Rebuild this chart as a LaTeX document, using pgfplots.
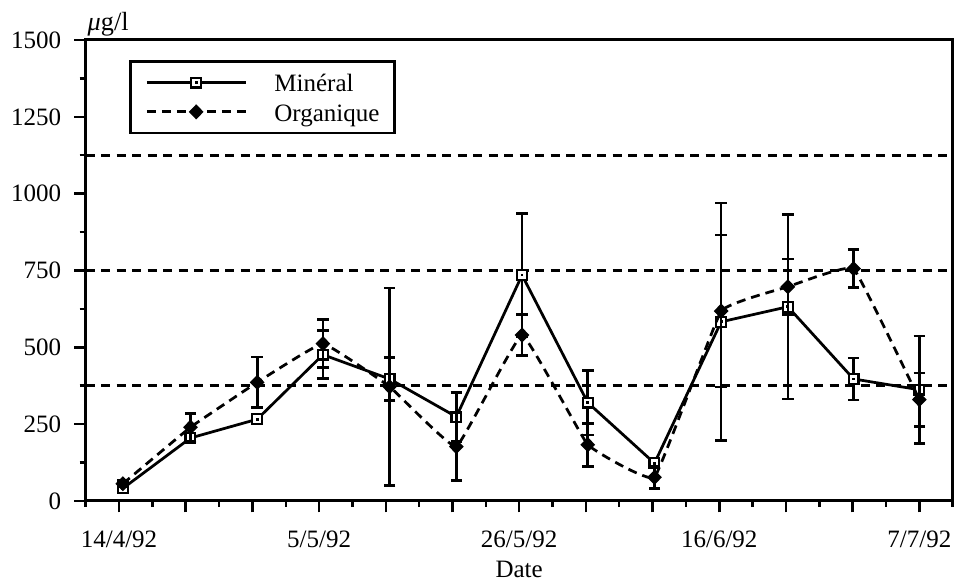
\documentclass[border=0pt]{standalone}
\usepackage{fontspec}
\setmainfont{Liberation Serif}
\usepackage{pgfplots}
\pgfplotsset{compat=1.18}
\usepackage{pgfplotstable}

\pgfdeclareplotmark{sqdot}{%
  \pgfpathrectangle{\pgfqpoint{-\pgfplotmarksize}{-\pgfplotmarksize}}{\pgfqpoint{2\pgfplotmarksize}{2\pgfplotmarksize}}%
  \pgfusepathqfillstroke
  \begin{pgfscope}%
  \pgfsetfillcolor{black}%
  \pgfpathrectangle{\pgfqpoint{-0.55pt}{-0.55pt}}{\pgfqpoint{1.1pt}{1.1pt}}%
  \pgfusepathqfill
  \end{pgfscope}%
}

\pgfplotstableread{
x y e
0.4 41 10
7.5 205 12
14.5 266 12
21.4 476 78
28.4 397 70
35.4 274 80
42.3 735 201
49.2 320 105
56.2 123 12
63.2 583 387
70.2 632 300
77.1 397 68
84.0 362 175
}\mineral

\pgfplotstableread{
x y e
0.4 56 10
7.5 240 45
14.5 386 82
21.4 512 78
28.4 372 321
35.4 177 111
42.3 540 66
49.2 183 70
56.2 77 36
63.2 618 247
70.2 697 90
77.1 756 62
84.0 330 87
}\organique

\begin{document}
\begin{tikzpicture}
\path[use as bounding box] (0,0) rectangle (383.2pt,232.4pt);
\begin{axis}[
  at={(34.28pt,32pt)}, anchor=south west,
  scale only axis, width=346.8pt, height=184.4pt,
  xmin=-3.5, xmax=87.5, ymin=0, ymax=1500,
  clip mode=individual,
  axis line style={line width=1.2pt},
  every tick/.style={line width=1pt, black},
  tick align=outside, tick pos=left,
  major tick length=4.6pt, minor tick length=2.4pt,
  xtick={0,7,...,84},
  xticklabels={14/4/92,,,5/5/92,,,26/5/92,,,16/6/92,,,7/7/92},
  minor xtick={-3.5,3.5,...,87.5},
  ytick={0,250,...,1500},
  minor ytick={125,375,...,1375},
  /pgf/number format/1000 sep={},
  /pgf/number format/assume math mode=true,
  tick label style={font=\fontsize{10}{12}\selectfont},
  yticklabel style={xshift=-1.7pt},
  xticklabel style={yshift=-4pt},
  xlabel={Date},
  xlabel style={at={(axis description cs:0.5,0)}, anchor=base, yshift=-30.6pt, font=\fontsize{10}{12}\selectfont},
  legend style={at={(0.0503,0.9566)}, anchor=north west, draw=black, line width=1.1pt,
    inner xsep=5.9pt, inner ysep=2.65pt, font=\fontsize{10}{12}\selectfont,
    nodes={inner sep=0pt, text height=9.6pt, text depth=2.1pt},
    column sep=11pt, row sep=0pt},
  legend cell align=left,
  legend image code/.code={\draw[mark repeat=2,mark phase=2,#1] plot coordinates {(0pt,0pt) (19.75pt,0pt) (39.5pt,0pt)};},
]
\addplot[black, line width=1.05pt, dash pattern=on 3.6pt off 2.6pt, forget plot] coordinates {(-3.5,375) (87.5,375)};
\addplot[black, line width=1.05pt, dash pattern=on 3.6pt off 2.6pt, forget plot] coordinates {(-3.5,750) (87.5,750)};
\addplot[black, line width=1.05pt, dash pattern=on 3.6pt off 2.6pt, forget plot] coordinates {(-3.5,1125) (87.5,1125)};

\addplot[black, line width=1.1pt, mark=sqdot, mark size=1.95pt,
  mark options={fill=white, line width=0.9pt, solid},
  error bars/.cd, y dir=both, y explicit,
  error bar style={line width=1.05pt, solid},
  error mark options={rotate=90, mark size=2.3pt, line width=1.05pt}]
  table[x=x, y=y, y error=e] {\mineral};
\addlegendentry{Minéral}

\addplot[black, line width=1.1pt, dash pattern=on 3.6pt off 2.4pt, smooth, tension=0.15,
  mark=diamond*, mark size=2.6pt,
  mark options={solid, fill=black, xscale=1.3, line width=0.6pt},
  error bars/.cd, y dir=both, y explicit,
  error bar style={line width=1.05pt, solid},
  error mark options={rotate=90, mark size=2.3pt, line width=1.05pt}]
  table[x=x, y=y, y error=e] {\organique};
\addlegendentry{Organique}

\node[anchor=base west, inner sep=0pt, font=\fontsize{10.5}{12}\selectfont, xshift=0.6pt, yshift=3.8pt] at (rel axis cs:0,1) {\textit{μ}g/l};
\end{axis}
\end{tikzpicture}
\end{document}
